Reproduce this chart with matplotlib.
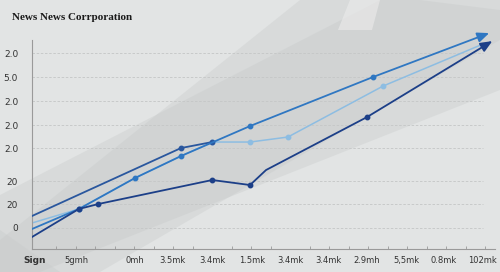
import numpy as np
import matplotlib.pyplot as plt
from matplotlib.patches import Polygon

# Data
title = 'News News Corrporation'
x_labels = ['Sign', '5gmh', '0mh', '3.5mk', '3.4mk', '1.5mk', '3.4mk', '3.4mk',
            '2.9mh', '5,5mk', '0.8mk', '102mk']
x_label_pos = [0.08, 1.15, 2.65, 3.6, 4.62, 5.64, 6.62, 7.59, 8.59, 9.59, 10.56, 11.56]
y_labels = ['0', '20', '20', '2.0', '2.0', '2.0', '5.0', '2.0']
y_label_pos = [0, 24, 47, 80, 103, 127, 151, 175]

dark_x = [0, 3.82, 4.62]
dark_y = [12, 80, 86]

light_x = [0, 1.2, 2.64, 3.82, 4.62, 5.59, 6.56, 9.0, 11.56]
light_y = [5, 19, 50, 72, 86, 86, 91, 142, 184]

medium_x = [0, 1.2, 2.64, 3.82, 5.59, 8.74, 11.72]
medium_y = [-1, 19, 50, 72, 102, 151, 195]

navy_x = [0, 1.2, 1.7, 4.62, 5.59, 6.0, 8.59, 11.8]
navy_y = [-9, 19, 24, 48, 43, 58, 111, 187]

c_dark = '#2a579e'
c_light = '#8dbde2'
c_medium = '#2f77c2'
c_navy = '#1c3f88'

fig = plt.figure(figsize=(5, 2.72), dpi=100)
fig.patch.set_facecolor('#e2e4e4')

# background diagonal bands
def add_band(pts, color, alpha):
    poly = Polygon([(px / 500, 1 - py / 272) for px, py in pts], closed=True,
                   transform=fig.transFigure, facecolor=color, alpha=alpha,
                   edgecolor='none', zorder=-5)
    fig.patches.append(poly)

add_band([(0, 195), (380, 0), (500, 0), (500, 40), (100, 272), (0, 272)], '#c6c9c9', 0.35)
add_band([(0, 240), (300, 0), (420, 0), (500, 10), (500, 90), (40, 272), (0, 272)], '#c2c5c5', 0.3)
add_band([(0, 230), (60, 272), (0, 272)], '#c8cbcb', 0.4)
add_band([(338, 30), (350, 0), (380, 0), (372, 30)], '#ececec', 0.6)

ax = fig.add_axes([0.064, 0.0846, 0.926, 0.768])
ax.set_facecolor('none')

ax.plot(dark_x, dark_y, color=c_dark, lw=1.3, marker='o', ms=3.2, markevery=[1, 2], zorder=3)
ax.plot(light_x[:-1], light_y[:-1], color=c_light, lw=1.1, marker='o', ms=3.2,
        markevery=[4, 5, 6, 7], zorder=2)
ax.annotate('', xy=(light_x[-1], light_y[-1]), xytext=(light_x[-2], light_y[-2]),
            arrowprops=dict(arrowstyle='-', color=c_light, lw=1.1, shrinkA=0, shrinkB=0),
            annotation_clip=False, zorder=2)
ax.plot(medium_x[:-1], medium_y[:-1], color=c_medium, lw=1.3, marker='o', ms=3.2,
        markevery=[1, 2, 3, 4, 5], zorder=4)
ax.annotate('', xy=(medium_x[-1], medium_y[-1]), xytext=(medium_x[-2], medium_y[-2]),
            arrowprops=dict(arrowstyle='-|>,head_length=0.7,head_width=0.3', color=c_medium, lw=1.3,
                            shrinkA=0, shrinkB=0), annotation_clip=False, zorder=4)
ax.plot(navy_x[:-1], navy_y[:-1], color=c_navy, lw=1.3, marker='o', ms=3.2,
        markevery=[1, 2, 3, 4, 6], zorder=5)
ax.annotate('', xy=(navy_x[-1], navy_y[-1]), xytext=(navy_x[-2], navy_y[-2]),
            arrowprops=dict(arrowstyle='-|>,head_length=0.7,head_width=0.3', color=c_navy, lw=1.3,
                            shrinkA=0, shrinkB=0), annotation_clip=False, zorder=5)

ax.set_xlim(0, 11.87)
ax.set_ylim(-21, 188)

# dashed gridlines
for yv in y_label_pos:
    ax.plot([0, 11.56], [yv, yv], color='#c4c6c6', lw=0.6, ls=(0, (3, 2)), zorder=1)

ax.set_yticks(y_label_pos)
ax.set_yticklabels(y_labels, fontsize=6.5, color='#333333')
ax.tick_params(axis='y', length=0, pad=10)

ax.set_xticks(x_label_pos)
ax.set_xticklabels(x_labels, fontsize=6, color='#333333')
ax.get_xticklabels()[0].set_fontweight('bold')
ax.get_xticklabels()[0].set_fontsize(6.5)
ax.tick_params(axis='x', which='major', length=0, pad=5)
ax.set_xticks(np.arange(0.62, 11.7, 0.5), minor=True)
ax.tick_params(axis='x', which='minor', length=2.5, direction='in', color='#999999', width=0.6)

for s in ['top', 'right']:
    ax.spines[s].set_visible(False)
for s in ['left', 'bottom']:
    ax.spines[s].set_color('#9a9a9a')
    ax.spines[s].set_linewidth(0.8)

fig.text(12/500, 1 - 18/272, title, fontsize=8, fontweight='bold', family='Liberation Serif',
         color='#1a1a1a', va='center', ha='left')

fig.savefig('out.png', dpi=100, facecolor=fig.get_facecolor())
